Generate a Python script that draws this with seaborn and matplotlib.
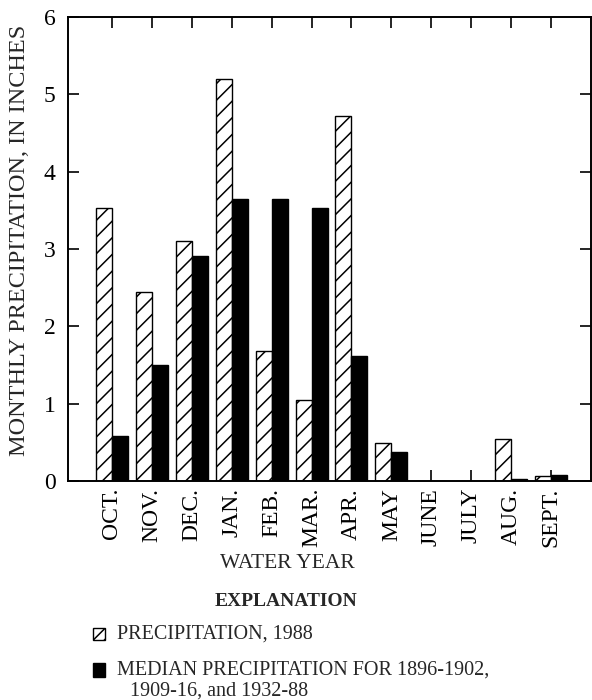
import numpy as np
import pandas as pd
import matplotlib
matplotlib.use("Agg")
import matplotlib.pyplot as plt
import seaborn as sns
from matplotlib.patches import Rectangle

# datos
meses = ["OCT.", "NOV.", "DEC.", "JAN.", "FEB.", "MAR.", "APR.", "MAY",
         "JUNE", "JULY", "AUG.", "SEPT."]
precip_1988 = [3.53, 2.45, 3.10, 5.20, 1.68, 1.05, 4.72, 0.49, 0.0, 0.0, 0.54, 0.06]
precip_mediana = [0.58, 1.50, 2.91, 3.65, 3.65, 3.53, 1.62, 0.37, 0.0, 0.0, 0.02, 0.08]
series = ["PRECIPITATION, 1988", "MEDIAN PRECIPITATION"]

df = pd.DataFrame({
    "mes": meses * 2,
    "valor": precip_1988 + precip_mediana,
    "serie": [series[0]] * len(meses) + [series[1]] * len(meses),
})

sns.set_style("ticks")
plt.rcParams["font.family"] = ["Liberation Serif", "DejaVu Serif"]
plt.rcParams["hatch.linewidth"] = 1.1

fig = plt.figure(figsize=(5.92, 7.0), dpi=100)
ax = fig.add_axes([68 / 592, 1 - 481 / 700, (591 - 68) / 592, (481 - 17) / 700])

sns.barplot(data=df, x="mes", y="valor", hue="serie", order=meses,
            hue_order=series, palette=["white", "black"], width=0.8,
            edgecolor="black", linewidth=1.0, legend=False, ax=ax)

# barras rayadas para 1988
for barra in ax.containers[0]:
    barra.set_facecolor("white")
    barra.set_hatch("//")
    barra.set_edgecolor("black")

ax.set_xlim(-1.1, 12.0)
ax.set_ylim(0, 6)
ax.set_yticks(range(0, 7))
ax.tick_params(axis="both", direction="in", length=8, width=1.2,
               top=True, right=True, colors="black")
ax.tick_params(axis="y", labelsize=17, pad=9)
ax.tick_params(axis="x", labelsize=17, rotation=90, pad=5)
for lab in ax.get_xticklabels():
    lab.set_verticalalignment("top")
for s in ax.spines.values():
    s.set_visible(True)
    s.set_linewidth(1.4)
    s.set_color("black")

ax.set_xlabel("")
ax.set_ylabel("MONTHLY PRECIPITATION, IN INCHES", fontsize=17.5)
ax.yaxis.set_label_coords(-(68 - 30) / 523, 0.519)

fig.text(287 / 592, 1 - 563 / 700, "WATER YEAR", ha="center", va="center", fontsize=15.5)
fig.text(286 / 592, 1 - 602 / 700, "EXPLANATION", ha="center", va="center",
         fontsize=14, fontweight="bold")

# explicacion (leyenda manual)
fig.add_artist(Rectangle((93 / 592, 1 - 640 / 700), 12 / 592, 12 / 700,
                         transform=fig.transFigure, facecolor="white",
                         edgecolor="black", hatch="///", linewidth=1.0))
fig.text(117 / 592, 1 - 634 / 700, "PRECIPITATION, 1988", ha="left", va="center", fontsize=14.5)
fig.add_artist(Rectangle((93 / 592, 1 - 677 / 700), 12 / 592, 14 / 700,
                         transform=fig.transFigure, facecolor="black",
                         edgecolor="black", linewidth=1.0))
fig.text(117 / 592, 1 - 670 / 700, "MEDIAN PRECIPITATION FOR 1896-1902,",
         ha="left", va="center", fontsize=14.5)
fig.text(130 / 592, 1 - 691 / 700, "1909-16, and 1932-88", ha="left", va="center", fontsize=14.5)

plt.savefig("out.png", dpi=100)
